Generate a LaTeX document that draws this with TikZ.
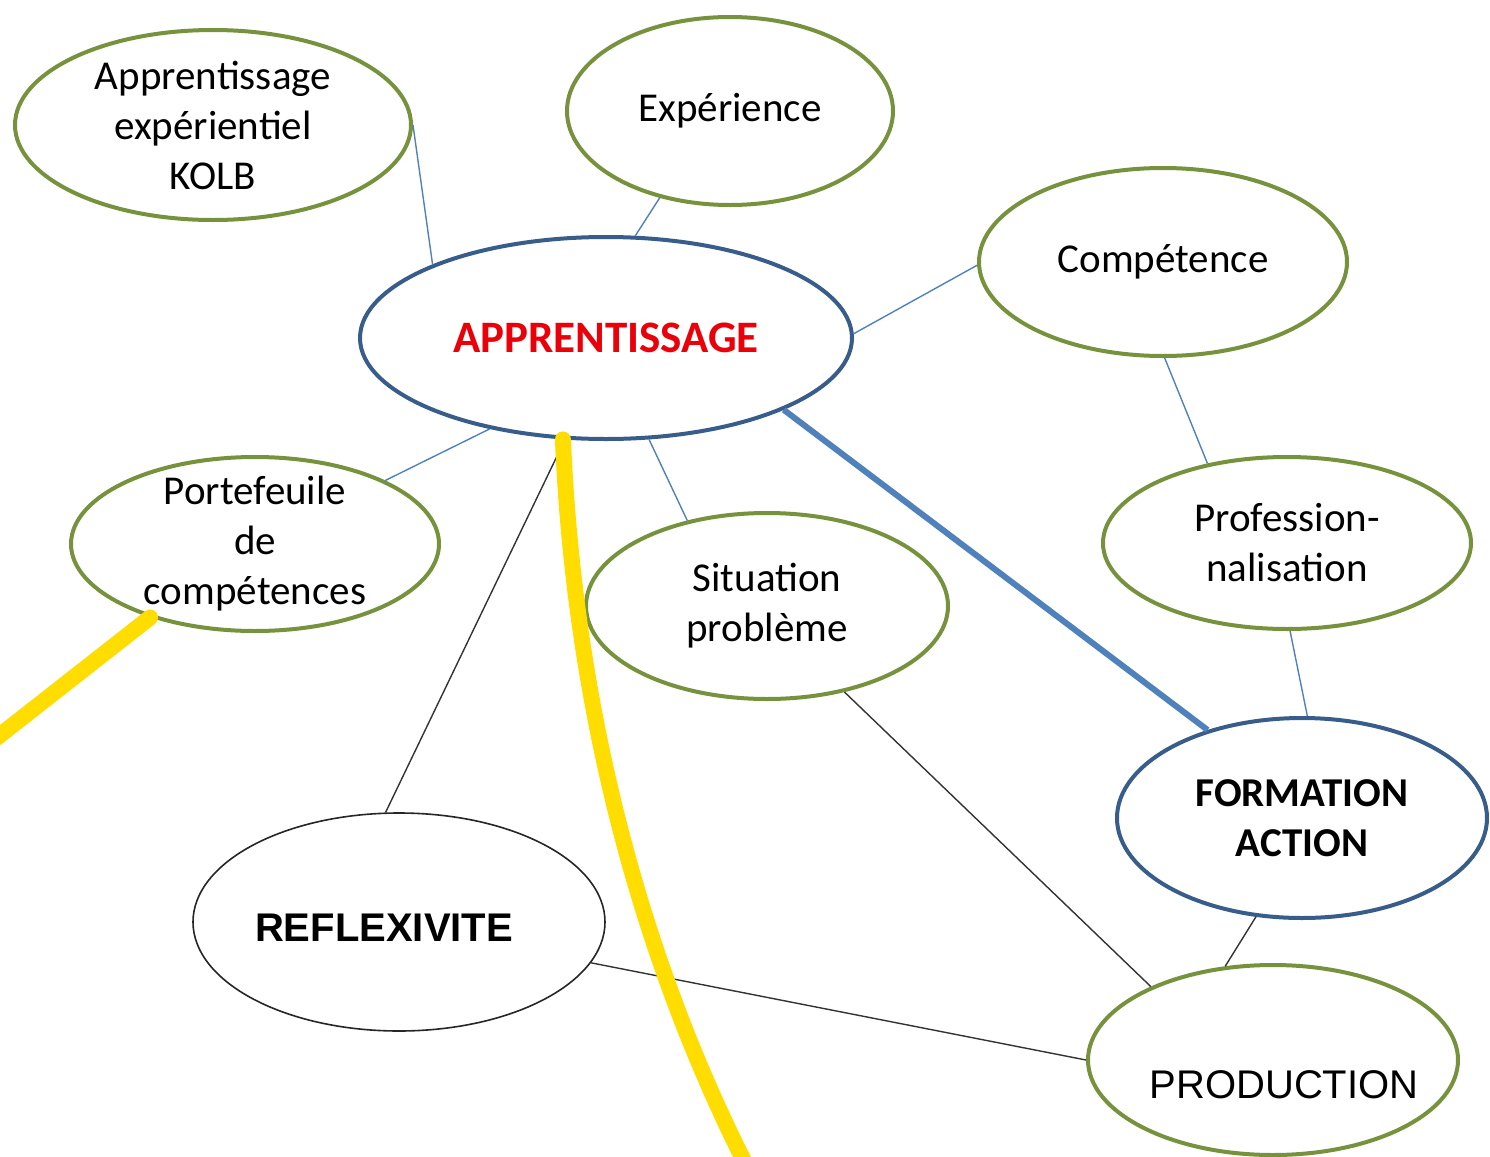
\documentclass[tikz,border=0pt]{standalone}
\usepackage{fontspec}
\setmainfont{Carlito}
\newfontfamily\arialfont{Liberation Sans}
\usetikzlibrary{shapes.geometric}

\definecolor{bubgreen}{RGB}{118,146,60}
\definecolor{bubblue}{RGB}{56,93,138}
\definecolor{linkblue}{RGB}{79,129,189}
\definecolor{hlyellow}{RGB}{255,221,0}
\definecolor{apred}{RGB}{235,0,10}

\tikzset{every picture/.style={line width=0.75pt}}
\tikzset{
  bubble/.style={ellipse, draw=bubgreen, line width=2pt, fill=white, inner sep=0pt, inner ysep=-8pt, align=center, font=\fontsize{20.5pt}{25pt}\selectfont},
  keybubble/.style={bubble, draw=bubblue},
  thinlink/.style={draw=linkblue, line width=0.7pt},
  mainlink/.style={draw=linkblue, line width=3pt},
  blacklink/.style={draw=black!80, line width=0.7pt},
  highlight/.style={draw=hlyellow, line width=8pt, line cap=round},
}

\begin{document}
\begin{tikzpicture}[x=0.5pt,y=0.5pt,yscale=-1,xscale=1]
\useasboundingbox (0,0) rectangle (1490,1157);

%Shape: Ellipse
\node [bubble, minimum width=198pt, minimum height=95pt] (kolb) at (213,125) {Apprentissage\\expérientiel\\KOLB};
%Shape: Ellipse
\node [bubble, minimum width=163pt, minimum height=94pt] (exper) at (730,111) {Expérience};
%Shape: Ellipse
\node [keybubble, minimum width=246pt, minimum height=101pt, text=apred, font=\bfseries\fontsize{22.5pt}{27pt}\selectfont] (appr) at (606,338) {APPRENTISSAGE};
%Shape: Ellipse
\node [bubble, minimum width=184pt, minimum height=94pt] (compet) at (1163,262) {Compétence};
%Shape: Ellipse
\node [bubble, minimum width=184pt, minimum height=87pt] (port) at (255,544) {Portefeuile\\de\\compétences};
%Shape: Ellipse
\node [bubble, minimum width=181pt, minimum height=93pt] (situ) at (767,606) {Situation\\problème};
%Shape: Ellipse
\node [bubble, minimum width=184pt, minimum height=86pt] (prof) at (1287,543) {Profession-\\nalisation};
%Shape: Ellipse
\node [keybubble, minimum width=185pt, minimum height=100pt, font=\bfseries\fontsize{20.5pt}{25pt}\selectfont] (formact) at (1302,818) {FORMATION\\ACTION};
%Shape: Ellipse
\node [bubble, draw=black!85, line width=0.8pt, minimum width=206pt, minimum height=109pt,
  label={[name=reflex-txt, inner sep=0pt, xshift=-7.5pt, yshift=-3pt, font=\arialfont\bfseries\fontsize{20pt}{24pt}\selectfont]center:REFLEXIVITE}] (reflex) at (399,922) {};
%Shape: Ellipse
\node [bubble, minimum width=185pt, minimum height=95pt,
  label={[name=prod-txt, inner sep=0pt, xshift=5.5pt, yshift=-12.5pt, font=\arialfont\fontsize{20pt}{24pt}\selectfont]center:PRODUCTION}] (prod) at (1273,1060) {};

%Straight Lines
\draw [thinlink] (kolb.0) -- (appr.157) ;
\draw [thinlink] (exper.231) -- (appr.74) ;
\draw [thinlink] (appr.1) -- (compet.181) ;
\draw [thinlink] (appr.218) -- (port.26) ;
\draw [thinlink] (appr.293) -- (situ.133) ;
\draw [thinlink] (compet.271) -- (prof.135) ;
\draw [thinlink] (prof.272) -- (formact.87) ;
\draw [mainlink] (appr.338) -- (formact.137) ;
%Straight Lines
\draw [blacklink] (appr.248) -- (reflex.97) ;
\draw [blacklink] (situ.312) -- (prod.149) ;
\draw [blacklink] (reflex.348) -- (prod.180) ;
\draw [blacklink] (formact.245) -- (prod.117) ;

%Yellow marks
\coordinate (pen-end) at (746,1165);
\coordinate (pen-out) at (-10,743);
\draw [highlight] (appr.247) .. controls (572,660) and (622,920) .. (pen-end) ;
\draw [highlight] (port.215) -- (pen-out) ;

\end{tikzpicture}
\end{document}
